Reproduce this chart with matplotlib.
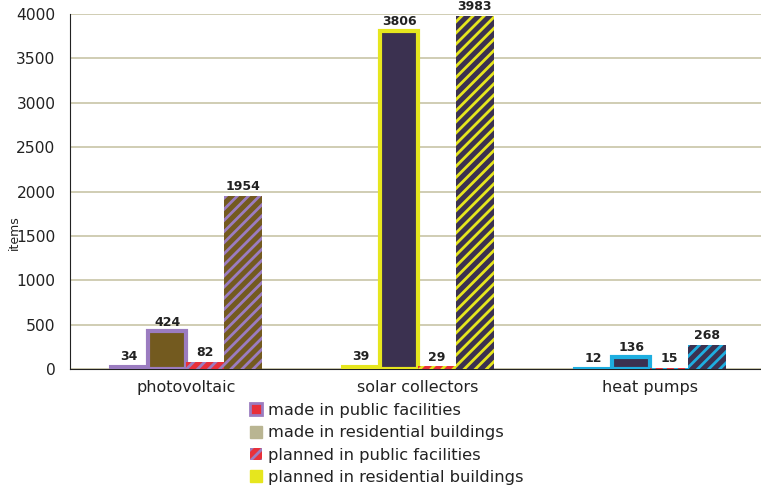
import numpy as np
import matplotlib.pyplot as plt
from matplotlib.patches import Patch

plt.rcParams['font.family'] = ['DejaVu Sans']
plt.rcParams['hatch.linewidth'] = 2.0

categories = ['photovoltaic', 'solar collectors', 'heat pumps']
series = ['made in public facilities', 'made in residential buildings',
          'planned in public facilities', 'planned in residential buildings']
made_public = [34, 39, 12]
made_residential = [424, 3806, 136]
planned_public = [82, 29, 15]
planned_residential = [1954, 3983, 268]
y_ticks = [0, 500, 1000, 1500, 2000, 2500, 3000, 3500, 4000]

outline_colors = ['#9b7cc0', '#e6e61e', '#1eaee0']
fill_colors = ['#735a1f', '#3b3150', '#3b3150']
red = '#e8303a'
text_col = '#222222'


def main():
    fig = plt.figure(figsize=(7.61, 4.88), dpi=100)
    ax = fig.add_axes([70 / 761, 119 / 488, 691 / 761, 355 / 488])

    x = np.arange(len(categories))
    w = 0.163
    for i in range(len(categories)):
        oc = outline_colors[i]
        fc = fill_colors[i]
        ax.bar(x[i] - 1.5 * w, made_public[i], w, color=oc, edgecolor=oc,
               linewidth=1.5, zorder=3)
        ax.bar(x[i] - 0.5 * w, made_residential[i], w, color=fc, edgecolor=oc,
               linewidth=3, zorder=3)
        ax.bar(x[i] + 0.5 * w, planned_public[i], w, color=red, edgecolor=oc,
               linewidth=0, hatch='///', zorder=3)
        ax.bar(x[i] + 1.5 * w, planned_residential[i], w, color=fc, edgecolor=oc,
               linewidth=0, hatch='///', zorder=3)

        vals = [made_public[i], made_residential[i], planned_public[i],
                planned_residential[i]]
        for k, v in enumerate(vals):
            ax.annotate(str(v), (x[i] + (k - 1.5) * w, v), xytext=(0, 2),
                        textcoords='offset points', ha='center', va='bottom',
                        fontsize=9, fontweight='bold', color=text_col,
                        zorder=4, annotation_clip=False)

    ax.set_xlim(-0.5, 2.5 - 5 / 232)
    ax.set_ylim(0, 4000)
    ax.set_yticks(y_ticks)
    ax.set_xticks(x)
    ax.set_xticklabels(categories, fontsize=11.5, color=text_col)
    ax.tick_params(axis='y', length=0, labelsize=11.2, labelcolor=text_col, pad=10.5)
    ax.tick_params(axis='x', length=0, pad=8)
    ax.yaxis.grid(True, color='#cdc9ae', linewidth=1.3, zorder=0)
    ax.set_axisbelow(True)
    for s in ['top', 'right']:
        ax.spines[s].set_visible(False)
    ax.spines['left'].set_color(text_col)
    ax.spines['bottom'].set_color(text_col)

    ax.set_ylabel('items', fontsize=9, color=text_col)
    ax.yaxis.set_label_coords(-0.071, 0.383)

    handles = [
        Patch(facecolor=red, edgecolor=outline_colors[0], linewidth=2),
        Patch(facecolor='#b9b592', edgecolor='#b9b592'),
        Patch(facecolor=red, edgecolor=outline_colors[0], linewidth=0, hatch='///'),
        Patch(facecolor='#e6e61e', edgecolor='#e6e61e'),
    ]
    fig.legend(handles, series, loc='upper left',
               bbox_to_anchor=(250 / 761, 1 - 403 / 488), frameon=False,
               fontsize=11.7, handlelength=0.74, handleheight=0.74,
               handletextpad=0.37, labelspacing=0.45, borderaxespad=0,
               borderpad=0, labelcolor=text_col)

    fig.savefig('out.png', dpi=100)


if __name__ == "__main__":
    main()
